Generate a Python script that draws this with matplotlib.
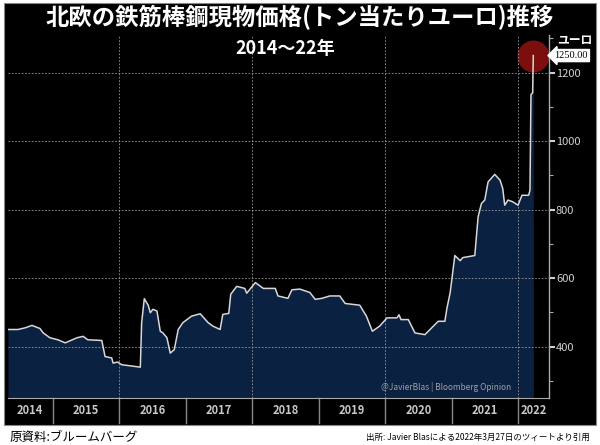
import matplotlib.pyplot as plt
from matplotlib.patches import Rectangle
import matplotlib.transforms as mtransforms

plt.rcParams['font.family'] = ['Noto Sans CJK JP', 'DejaVu Sans']

# 北欧の鉄筋棒鋼現物価格 (ユーロ/トン), 読み取り値
years = [2014.33, 2014.48, 2014.59, 2014.69, 2014.81, 2014.86, 2014.96, 2015.08,
         2015.19, 2015.37, 2015.46, 2015.53, 2015.74, 2015.79, 2015.89, 2015.91,
         2015.98, 2016.04, 2016.17, 2016.32, 2016.34, 2016.38, 2016.44, 2016.47,
         2016.51, 2016.57, 2016.62, 2016.66, 2016.72, 2016.77, 2016.83, 2016.89,
         2016.96, 2017.09, 2017.22, 2017.34, 2017.41, 2017.52, 2017.56, 2017.65,
         2017.68, 2017.77, 2017.89, 2017.92, 2018.05, 2018.17, 2018.35, 2018.39,
         2018.54, 2018.60, 2018.72, 2018.87, 2018.95, 2019.05, 2019.17, 2019.32,
         2019.40, 2019.62, 2019.72, 2019.81, 2019.92, 2020.03, 2020.18, 2020.21,
         2020.24, 2020.35, 2020.45, 2020.60, 2020.80, 2020.90, 2020.93, 2020.98,
         2021.05, 2021.13, 2021.17, 2021.35, 2021.40, 2021.45, 2021.50, 2021.55,
         2021.65, 2021.73, 2021.77, 2021.80, 2021.85, 2021.92, 2022.00, 2022.06,
         2022.16, 2022.18, 2022.195, 2022.22, 2022.23]
prices = [450, 450, 455, 462, 453, 440, 426, 420,
          411, 426, 430, 420, 418, 371, 367, 352,
          355, 347, 344, 340, 470, 540, 520, 499,
          509, 504, 445, 440, 426, 381, 391, 450,
          470, 489, 496, 470, 460, 450, 494, 497,
          553, 576, 570, 556, 587, 570, 570, 548,
          541, 566, 568, 558, 538, 541, 548, 548,
          526, 521, 489, 445, 460, 484, 484, 493,
          479, 479, 440, 435, 474, 474, 511, 558,
          666, 651, 660, 666, 779, 818, 828, 881,
          903, 886, 862, 813, 828, 823, 813, 842,
          842, 857, 1136, 1141, 1250]

year_labels = ['2014', '2015', '2016', '2017', '2018', '2019', '2020', '2021', '2022']
y_ticks = [400, 600, 800, 1000, 1200]
last_price = 1250

x_min, x_max = 2014.33, 2022.466
y_min, y_max = 250, 1310

fig = plt.figure(figsize=(6, 4.45), dpi=100, facecolor='white')
fig.patches.append(Rectangle((4 / 600, 1 - 425 / 445), 592 / 600, 422 / 445,
                             transform=fig.transFigure, facecolor='black',
                             edgecolor='#888888', linewidth=0.8, zorder=-1))

ax = fig.add_axes([8 / 600, 1 - 398 / 445, 541 / 600, 363 / 445])
ax.set_zorder(1)
ax.set_facecolor('black')
ax.set_xlim(x_min, x_max)
ax.set_ylim(y_min, y_max)

ax.fill_between(years, prices, y_min, color='#0b2142', zorder=1, linewidth=0)
ax.plot(years, prices, color='#d8d8d8', linewidth=1.1, zorder=3)

# 赤い丸
ax.plot([years[-1]], [last_price], marker='o', markersize=23, color='#8a1010',
        alpha=0.9, zorder=2, markeredgewidth=0)

# グリッド
for v in y_ticks:
    ax.axhline(v, color='#9a9a9a', linestyle=(0, (2, 2)), linewidth=0.6, zorder=2)
for yr in [2016, 2018, 2020, 2022]:
    ax.axvline(yr, color='#9a9a9a', linestyle=(0, (2, 2)), linewidth=0.6, zorder=2)

# 右の軸
ax.yaxis.tick_right()
ax.set_yticks(y_ticks)
ax.set_yticks([300, 500, 700, 900, 1100, 1300], minor=True)
ax.tick_params(axis='y', which='major', direction='out', length=4, width=1.5,
               colors='#d0d0d0', labelsize=8, pad=1)
ax.tick_params(axis='y', which='minor', direction='out', length=3, width=0.8,
               colors='#aaaaaa')
ax.set_xticks([])
for side in ['top', 'left']:
    ax.spines[side].set_visible(False)
ax.spines['right'].set_color('#aaaaaa')
ax.spines['bottom'].set_color('#aaaaaa')
ax.spines['right'].set_linewidth(1)

# 年の区切りとラベル
trans = mtransforms.blended_transform_factory(ax.transData, ax.transAxes)
for yr in range(2015, 2023):
    ax.plot([yr, yr], [0, -25 / 363], transform=trans, color='#888888',
            linewidth=1, clip_on=False)
for i, lab in enumerate(year_labels):
    start = max(2014 + i, x_min)
    end = min(2015 + i, x_max)
    ax.text((start + end) / 2, -13 / 363, lab, transform=trans, ha='center',
            va='center', color='#c8c8c8', fontsize=8, fontweight='bold')

ax.text(0.69, 0.03, '@JavierBlas | Bloomberg Opinion', transform=ax.transAxes,
        ha='left', va='center', color='#a0a0a0', fontsize=6)

# 最新値ラベル
ax.text(1.01, (last_price - y_min) / (y_max - y_min), f'{last_price:.2f}',
        transform=ax.transAxes, ha='left', va='center', fontsize=7.5,
        color='black', family=['Liberation Serif'],
        bbox=dict(boxstyle='larrow,pad=0.15', fc='white', ec='white'))
fig.text(575 / 600, 1 - 40 / 445, 'ユーロ', ha='center', va='center',
         color='white', fontsize=8.5, fontweight='bold')

# タイトル
fig.text(0.5, 1 - 17 / 445, '北欧の鉄筋棒鋼現物価格(トン当たりユーロ)推移',
         ha='center', va='center', color='white', fontsize=16.8, fontweight='bold')
fig.text(0.475, 1 - 48 / 445, '2014～22年', ha='center', va='center',
         color='white', fontsize=13, fontweight='bold')

# 出所
fig.text(10 / 600, 1 - 437 / 445, '原資料:ブルームバーグ', ha='left', va='center',
         color='black', fontsize=9)
fig.text(590 / 600, 1 - 437 / 445, '出所: Javier Blasによる2022年3月27日のツィートより引用',
         ha='right', va='center', color='black', fontsize=6.1)

fig.savefig('out.png', dpi=100, facecolor='white')
